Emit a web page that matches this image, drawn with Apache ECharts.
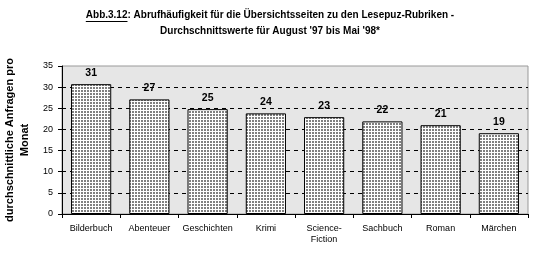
<!DOCTYPE html>
<html><head><meta charset="utf-8">
<script src="https://cdn.jsdelivr.net/npm/echarts@6/dist/echarts.min.js"></script>
<style>html,body{margin:0;padding:0;background:#fff}#c{width:552px;height:259px}</style>
</head><body><div id="c"></div>
<script>
const categories = ['Bilderbuch','Abenteuer','Geschichten','Krimi','Science-\nFiction','Sachbuch','Roman','Märchen'];
const values = [30.7, 27.1, 24.8, 23.8, 22.9, 21.9, 21.0, 19.1];
const valueLabels = ['31','27','25','24','23','22','21','19'];
const yTicks = [0,5,10,15,20,25,30,35];
const titleLine1Prefix = 'Abb.3.12';
const titleLine1Rest = ': Abrufhäufigkeit für die Übersichtsseiten zu den Lesepuz-Rubriken -';
const titleLine2 = 'Durchschnittswerte für August \'97 bis Mai \'98*';

const F = 'Liberation Sans, Arial, sans-serif';
const TFS = 10;

const pc = document.createElement('canvas');
pc.width = 3; pc.height = 3;
const pctx = pc.getContext('2d');
pctx.fillStyle = '#ffffff'; pctx.fillRect(0,0,3,3);
pctx.fillStyle = '#808080'; pctx.fillRect(0,0,2,2);

// measure title for underline
const mc = document.createElement('canvas').getContext('2d');
mc.font = 'bold ' + TFS + 'px ' + F;
const wPrefix = mc.measureText(titleLine1Prefix).width;
const w1 = mc.measureText(titleLine1Prefix + titleLine1Rest).width;
const w2 = mc.measureText(titleLine2).width;
const titleCenter = 270;
const line1Left = titleCenter - w1/2;

const chart = echarts.init(document.getElementById('c'), null, {renderer:'canvas'});
chart.setOption({
  animation:false,
  backgroundColor:'#ffffff',
  graphic:[
    {type:'text',left:line1Left,top:10,style:{text:titleLine1Prefix + titleLine1Rest,font:'bold '+TFS+'px '+F,fill:'#000'}},
    {type:'text',left:titleCenter - w2/2,top:26,style:{text:titleLine2,font:'bold '+TFS+'px '+F,fill:'#000'}},
    {type:'line',shape:{x1:line1Left,y1:21.5,x2:line1Left+wPrefix,y2:21.5},style:{stroke:'#000',lineWidth:1}}
  ],
  grid:{left:62,right:24,top:66,bottom:45,outerBoundsMode:'none',containLabel:false,show:true,backgroundColor:'#e6e6e6',borderColor:'#999999',borderWidth:1},
  xAxis:{type:'category',data:categories,
    axisLine:{lineStyle:{color:'#000',width:1}},
    axisTick:{show:true,length:4,lineStyle:{color:'#000'}},
    axisLabel:{fontFamily:F,fontSize:9,color:'#000',margin:9,lineHeight:11,interval:0}
  },
  yAxis:{type:'value',min:0,max:35,interval:5,
    name:'durchschnittliche Anfragen pro\nMonat',nameLocation:'middle',nameGap:22,nameRotate:90,
    nameTextStyle:{fontFamily:F,fontSize:11,fontWeight:'bold',color:'#000',lineHeight:15},
    axisLine:{show:true,lineStyle:{color:'#000',width:1}},
    axisTick:{show:true,length:4,lineStyle:{color:'#000'}},
    axisLabel:{fontFamily:F,fontSize:9,color:'#000',margin:9,
      formatter:function(v){return yTicks.indexOf(v)>=0?String(v):'';}},
    splitLine:{show:true,showMinLine:false,showMaxLine:false,lineStyle:{color:'#000',type:[4,4],width:1}}
  },
  series:[{type:'bar',data:values,barWidth:'69%',
    itemStyle:{color:{image:pc,repeat:'repeat'},borderColor:'#000',borderWidth:1},
    label:{show:true,position:'top',distance:6,fontFamily:F,fontSize:10.5,fontWeight:'bold',color:'#000',
      formatter:function(p){return valueLabels[p.dataIndex];}}
  }]
});
</script></body></html>
